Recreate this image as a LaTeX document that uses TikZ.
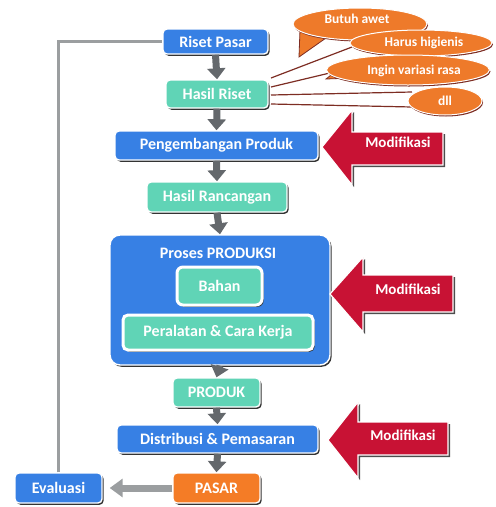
\documentclass[tikz,border=0pt]{standalone}
\usepackage{fontspec}
\setmainfont{Carlito}
\usetikzlibrary{shadows,arrows.meta,shapes.geometric}
\definecolor{boxblue}{RGB}{55,128,228}
\definecolor{boxteal}{RGB}{96,212,182}
\definecolor{pasaror}{RGB}{244,124,38}
\definecolor{bubor}{RGB}{238,122,42}
\definecolor{arrred}{RGB}{200,18,52}
\definecolor{arrgray}{RGB}{100,104,108}
\definecolor{linegray}{RGB}{155,158,160}
\definecolor{tailred}{RGB}{125,45,35}
\tikzset{
  base/.style={rounded corners=4pt, draw=white, line width=1.4pt, text=white,
    font=\bfseries\fontsize{16}{18}\selectfont, inner sep=0pt,
    drop shadow={shadow xshift=1.6pt, shadow yshift=-1.8pt, fill=black!80, opacity=1}},
  bluebox/.style={base, fill=boxblue},
  tealbox/.style={base, fill=boxteal},
  orbox/.style={base, fill=pasaror},
  downarrow/.style={draw=arrgray, line width=7pt, -{Triangle[width=18pt,length=11pt]}},
  modarrow/.style={fill=arrred, draw=white, line width=1.2pt,
    drop shadow={shadow xshift=2pt, shadow yshift=-2pt, fill=black!70, opacity=1}},
  modtext/.style={text=white, font=\bfseries\fontsize{15}{17}\selectfont, inner sep=0pt},
  bubble/.style={ellipse, fill=bubor, draw=white, line width=1pt, inner sep=0pt,
    drop shadow={shadow xshift=1pt, shadow yshift=-1.5pt, fill=tailred, opacity=1}},
  bubtext/.style={text=white, font=\bfseries\fontsize{13.5}{16}\selectfont, inner sep=0pt},
  tailline/.style={draw=tailred, line width=1.2pt},
}
\begin{document}
\begin{tikzpicture}[x=1pt,y=-1pt]
\useasboundingbox (0,0) rectangle (496,507);

% feedback line
\node[bluebox, minimum width=105pt, minimum height=25pt] (rp) at (215.5,41.5) {Riset Pasar};
\node[bluebox, minimum width=87pt, minimum height=30pt] (ev) at (58.5,488) {Evaluasi};
\draw[linegray, line width=3.5pt] (ev.north) |- (rp.west);

% bubbles and tails
\coordinate (t1) at (271,78);
\coordinate (t2) at (271,87);
\coordinate (t3) at (271,95);
\coordinate (t4) at (271,104);
\path[fill=bubor, draw=tailred, line width=0.8pt] (300,30) -- (299,57) -- (326,38) -- cycle;
\node[bubble, minimum width=134pt, minimum height=32pt] (b1) at (360,24) {};
\node[bubtext] (b1t) at (357,19) {Butuh awet};
\draw[tailline] (t1) -- (352,47);
\node[bubble, minimum width=142pt, minimum height=26pt] (b2) at (421,43) {};
\node[bubtext] (b2t) at (424,43) {Harus higienis};
\draw[tailline] (t2) -- (334,72);
\path[fill=bubor, draw=tailred, line width=0.8pt] (345,64) -- (326,79) -- (352,78) -- cycle;
\node[bubble, minimum width=163pt, minimum height=30pt] (b3) at (408,70) {};
\node[bubtext] (b3t) at (414,71) {Ingin variasi rasa};
\draw[tailline] (t3) -- (412,92);
\draw[tailline] (t4) -- (412,107);
\node[bubble, minimum width=74pt, minimum height=28pt] (b4) at (445,101) {};
\node[bubtext] (b4t) at (445,101) {dll};

% main boxes
\node[tealbox, minimum width=102pt, minimum height=28pt] (hr) at (217,94) {Hasil Riset};
\node[bluebox, minimum width=203pt, minimum height=29pt] (pg) at (216.5,145.5) {Pengembangan Produk};
\node[tealbox, minimum width=140pt, minimum height=30pt] (hrc) at (217,197) {Hasil Rancangan};
\node[bluebox, rounded corners=10pt, minimum width=220pt, minimum height=130pt] (pp) at (220,300) {};
\node[text=white, font=\bfseries\fontsize{16}{18}\selectfont, inner sep=0pt] (ppt) at (218,253) {Proses PRODUKSI};
\node[tealbox, line width=3pt, rounded corners=6pt, minimum width=85pt, minimum height=38pt] (bh) at (219.5,286) {Bahan};
\node[tealbox, line width=3pt, rounded corners=5pt, minimum width=190pt, minimum height=35pt] (pk) at (218,332.5) {Peralatan \& Cara Kerja};
\node[tealbox, minimum width=87pt, minimum height=29pt] (pr) at (216.5,392.5) {PRODUK};
\node[bluebox, minimum width=201pt, minimum height=28pt] (ds) at (217.5,439) {Distribusi \& Pemasaran};
\node[orbox, minimum width=87pt, minimum height=30pt] (ps) at (216.5,488) {PASAR};

% down arrows
\draw[downarrow] (rp.south) -- (hr.north);
\draw[downarrow] (hr.south) -- (pg.north);
\draw[downarrow] (pg.south) -- (hrc.north);
\draw[downarrow] (hrc.south) -- (pp.north);
\draw[downarrow] (pp.south) -- (pr.north);
\draw[downarrow] (pr.south) -- (ds.north);
\draw[downarrow] (ds.south) -- (ps.north);

% pasar to evaluasi
\draw[draw=linegray, line width=7pt, -{Triangle[width=18pt,length=13pt]}, shorten >=7pt] (ps.west) -- (ev.east);

% modification arrows
\path[modarrow] (322,147) -- (352,110) -- (352,132) -- (443,132) -- (443,165) -- (352,165) -- (352,185) -- cycle;
\node[modtext] (m1) at (398,142) {Modifikasi};
\path[modarrow] (330,294) -- (363,257) -- (363,275) -- (453,275) -- (453,312) -- (363,312) -- (363,332) -- cycle;
\node[modtext] (m2) at (408,289) {Modifikasi};
\path[modarrow] (328,440) -- (358,402) -- (358,422) -- (448,422) -- (448,455) -- (358,455) -- (358,478) -- cycle;
\node[modtext] (m3) at (403,435) {Modifikasi};
\end{tikzpicture}
\end{document}
